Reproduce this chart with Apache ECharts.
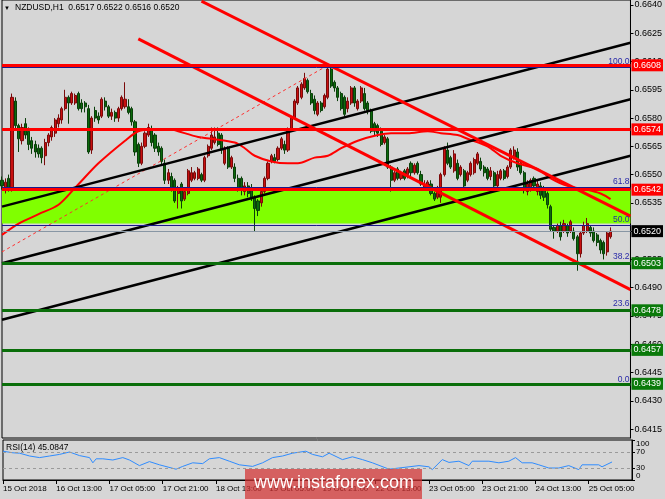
<!DOCTYPE html>
<html><head><meta charset="utf-8">
<script src="https://cdn.jsdelivr.net/npm/echarts@6/dist/echarts.min.js"></script>
<style>html,body{margin:0;padding:0;background:#d6d6d6}#c{width:665px;height:499px}</style>
</head><body><div id="c"></div>
<script>
// ---------- DATA ----------
const symbolName = 'NZDUSD,H1';
const lastQuote = ['0.6517', '0.6522', '0.6516', '0.6520'];
const rsiTitle = 'RSI(14) 45.0847';
const timeLabels = ['15 Oct 2018','16 Oct 13:00','17 Oct 05:00','17 Oct 21:00','18 Oct 13:00','19 Oct 05:00','19 Oct 21:00','22 Oct 13:00','23 Oct 05:00','23 Oct 21:00','24 Oct 13:00','25 Oct 05:00'];
const labelStep = 16;
const slotCount = 190;
const priceTicks = [0.6415,0.6430,0.6445,0.6460,0.6475,0.6490,0.6505,0.6520,0.6535,0.6550,0.6565,0.6580,0.6595,0.6610,0.6625,0.6640];
const rsiInnerTicks = [30, 70];
const rsiEdgeTicks = [0, 100];
const rsiLevels = [30, 70];

const opens = [0.6547,0.6542,0.6548,0.6543,0.6589,0.6576,0.6568,0.6577,0.6573,0.6568,0.6566,0.6564,0.6564,0.6560,0.6567,0.6570,0.6572,0.6577,0.6579,0.6585,
0.6591,0.6588,0.6588,0.6593,0.6588,0.6588,0.6585,0.6563,0.6584,0.6581,0.6581,0.6589,0.6586,0.6581,0.6583,0.6580,0.6585,0.6586,0.6586,0.6585,
0.6578,0.6566,0.6556,0.6565,0.6571,0.6574,0.6571,0.6565,0.6564,0.6556,0.6547,0.6549,0.6547,0.6540,0.6545,0.6537,0.6540,0.6547,0.6548,0.6548,
0.6550,0.6547,0.6560,0.6564,0.6567,0.6572,0.6571,0.6556,0.6564,0.6554,0.6554,0.6548,0.6548,0.6541,0.6544,0.6543,0.6538,0.6536,0.6535,0.6541,
0.6548,0.6557,0.6559,0.6558,0.6564,0.6566,0.6563,0.6574,0.6580,0.6588,0.6591,0.6596,0.6600,0.6593,0.6590,0.6582,0.6588,0.6586,0.6591,0.6606,
0.6599,0.6596,0.6593,0.6591,0.6585,0.6588,0.6596,0.6585,0.6589,0.6593,0.6588,0.6584,0.6577,0.6576,0.6573,0.6567,0.6569,0.6554,0.6547,0.6553,
0.6548,0.6552,0.6550,0.6556,0.6551,0.6556,0.6550,0.6543,0.6543,0.6545,0.6540,0.6538,0.6538,0.6550,0.6563,0.6559,0.6552,0.6556,0.6550,0.6552,
0.6547,0.6550,0.6551,0.6556,0.6557,0.6554,0.6553,0.6549,0.6551,0.6544,0.6548,0.6552,0.6549,0.6554,0.6559,0.6562,0.6556,0.6551,0.6541,0.6542,
0.6548,0.6541,0.6544,0.6543,0.6540,0.6533,0.6522,0.6520,0.6523,0.6520,0.6523,0.6520,0.6520,0.6517,0.6508,0.6519,0.6520,0.6522,0.6520,0.6518,
0.6515,0.6514,0.6509,0.6517];
const closes = [0.6544,0.6546,0.6543,0.6591,0.6576,0.6569,0.6575,0.6571,0.6566,0.6564,0.6562,0.6561,0.6559,0.6567,0.6571,0.6575,0.6579,0.6580,0.6585,0.6591,
0.6588,0.6593,0.6592,0.6585,0.6585,0.6586,0.6562,0.6580,0.6580,0.6579,0.6590,0.6586,0.6581,0.6583,0.6580,0.6585,0.6591,0.6590,0.6583,0.6578,
0.6562,0.6556,0.6565,0.6572,0.6575,0.6567,0.6564,0.6562,0.6557,0.6547,0.6551,0.6543,0.6536,0.6543,0.6536,0.6541,0.6552,0.6551,0.6551,0.6553,
0.6547,0.6559,0.6565,0.6571,0.6570,0.6566,0.6563,0.6564,0.6554,0.6559,0.6548,0.6543,0.6542,0.6544,0.6540,0.6538,0.6532,0.6531,0.6541,0.6548,
0.6556,0.6560,0.6557,0.6564,0.6569,0.6563,0.6574,0.6580,0.6589,0.6596,0.6598,0.6601,0.6594,0.6588,0.6584,0.6588,0.6584,0.6592,0.6606,0.6597,
0.6596,0.6591,0.6585,0.6582,0.6589,0.6596,0.6588,0.6589,0.6596,0.6585,0.6584,0.6573,0.6573,0.6572,0.6566,0.6570,0.6554,0.6547,0.6551,0.6548,
0.6551,0.6548,0.6553,0.6551,0.6555,0.6551,0.6545,0.6545,0.6546,0.6540,0.6537,0.6543,0.6550,0.6564,0.6556,0.6554,0.6561,0.6548,0.6554,0.6544,
0.6551,0.6556,0.6558,0.6561,0.6553,0.6551,0.6548,0.6552,0.6544,0.6550,0.6552,0.6548,0.6554,0.6563,0.6563,0.6554,0.6551,0.6542,0.6545,0.6547,
0.6544,0.6545,0.6539,0.6538,0.6534,0.6521,0.6520,0.6523,0.6517,0.6524,0.6519,0.6525,0.6516,0.6508,0.6519,0.6523,0.6524,0.6519,0.6515,0.6514,
0.6510,0.6508,0.6519,0.6520];
const lows = [0.6542,0.6540,0.6541,0.6541,0.6574,0.6562,0.6566,0.6569,0.6563,0.6561,0.6559,0.6559,0.6556,0.6555,0.6565,0.6568,0.6570,0.6575,0.6577,0.6584,
0.6577,0.6587,0.6587,0.6584,0.6583,0.6583,0.6561,0.6561,0.6578,0.6577,0.6580,0.6584,0.6580,0.6579,0.6578,0.6578,0.6584,0.6585,0.6582,0.6576,
0.6560,0.6554,0.6555,0.6564,0.6570,0.6565,0.6562,0.6560,0.6555,0.6545,0.6545,0.6541,0.6535,0.6532,0.6532,0.6536,0.6539,0.6546,0.6547,0.6547,
0.6546,0.6546,0.6559,0.6563,0.6566,0.6565,0.6561,0.6555,0.6553,0.6553,0.6546,0.6541,0.6539,0.6539,0.6538,0.6536,0.6520,0.6528,0.6533,0.6540,
0.6547,0.6556,0.6556,0.6557,0.6563,0.6561,0.6562,0.6573,0.6579,0.6587,0.6590,0.6595,0.6593,0.6587,0.6582,0.6581,0.6583,0.6585,0.6590,0.6596,
0.6594,0.6589,0.6584,0.6581,0.6583,0.6587,0.6586,0.6584,0.6588,0.6584,0.6582,0.6572,0.6571,0.6570,0.6565,0.6566,0.6553,0.6541,0.6546,0.6547,
0.6547,0.6547,0.6548,0.6549,0.6550,0.6550,0.6544,0.6542,0.6542,0.6539,0.6536,0.6537,0.6535,0.6549,0.6555,0.6553,0.6551,0.6547,0.6549,0.6542,
0.6546,0.6549,0.6550,0.6555,0.6552,0.6549,0.6547,0.6547,0.6543,0.6543,0.6547,0.6547,0.6548,0.6553,0.6558,0.6552,0.6550,0.6540,0.6539,0.6541,
0.6543,0.6539,0.6537,0.6536,0.6532,0.6520,0.6516,0.6519,0.6515,0.6519,0.6517,0.6519,0.6515,0.6499,0.6506,0.6518,0.6519,0.6517,0.6514,0.6512,
0.6508,0.6505,0.6507,0.6516];
const highs = [0.6549,0.6548,0.6550,0.6593,0.6591,0.6577,0.6577,0.6580,0.6575,0.6570,0.6568,0.6566,0.6565,0.6569,0.6572,0.6576,0.6580,0.6582,0.6586,0.6595,
0.6592,0.6594,0.6593,0.6594,0.6590,0.6589,0.6587,0.6581,0.6586,0.6583,0.6591,0.6591,0.6587,0.6585,0.6584,0.6586,0.6592,0.6599,0.6590,0.6586,
0.6579,0.6567,0.6567,0.6573,0.6577,0.6576,0.6572,0.6567,0.6565,0.6558,0.6553,0.6551,0.6548,0.6544,0.6546,0.6542,0.6553,0.6554,0.6552,0.6554,
0.6551,0.6560,0.6566,0.6575,0.6575,0.6575,0.6572,0.6565,0.6565,0.6560,0.6556,0.6550,0.6549,0.6546,0.6546,0.6545,0.6539,0.6537,0.6542,0.6549,
0.6557,0.6561,0.6561,0.6565,0.6570,0.6568,0.6575,0.6581,0.6590,0.6597,0.6599,0.6604,0.6601,0.6595,0.6592,0.6589,0.6589,0.6593,0.6608,0.6608,
0.6600,0.6597,0.6594,0.6592,0.6591,0.6597,0.6597,0.6590,0.6597,0.6596,0.6589,0.6585,0.6578,0.6577,0.6575,0.6571,0.6570,0.6555,0.6552,0.6554,
0.6552,0.6553,0.6554,0.6557,0.6556,0.6557,0.6552,0.6547,0.6547,0.6547,0.6541,0.6544,0.6551,0.6565,0.6567,0.6560,0.6563,0.6558,0.6555,0.6553,
0.6552,0.6557,0.6559,0.6562,0.6559,0.6555,0.6554,0.6554,0.6552,0.6552,0.6553,0.6553,0.6555,0.6564,0.6565,0.6564,0.6557,0.6552,0.6547,0.6548,
0.6549,0.6547,0.6546,0.6544,0.6541,0.6534,0.6523,0.6524,0.6525,0.6526,0.6524,0.6526,0.6522,0.6518,0.6520,0.6525,0.6527,0.6523,0.6522,0.6519,
0.6516,0.6515,0.6520,0.6522];

// moving average: [bar index, price]
const movingAvg = [[0,0.6518],[5,0.6524],[11,0.6529],[17,0.6534],[22,0.6543],[29,0.6556],[37,0.6568],[41,0.6573],[45,0.6574],[51,0.6574],[53,0.6573],[59,0.6570],[63,0.6569],[70,0.6567],[73,0.6564],[76,0.6560],[81,0.6557],[86,0.6556],[89,0.6556],[94,0.6559],[98,0.6560],[102,0.6564],[107,0.6568],[113,0.6571],[117,0.6572],[122,0.6572],[128,0.6573],[132,0.6572],[137,0.6571],[140,0.6569],[146,0.6565],[150,0.6560],[155,0.6556],[161,0.6553],[165,0.6548],[170,0.6544],[176,0.6542],[180,0.6540],[183,0.6537]];

// RSI(14): [bar index, value]
const rsiValues = [[0,72],[3,68],[5,67],[8,60],[11,56],[14,60],[17,64],[20,70],[23,61],[26,56],[27,43],[28,53],[30,53],[33,50],[36,56],[38,50],[41,36],[44,46],[47,38],[52,27],[54,34],[57,43],[60,41],[62,53],[65,56],[68,47],[71,38],[75,34],[78,43],[81,56],[84,60],[87,67],[91,72],[93,64],[96,58],[98,67],[102,51],[105,58],[108,51],[111,43],[116,27],[122,33],[125,36],[128,33],[129,26],[132,51],[134,44],[137,47],[140,36],[141,47],[146,47],[149,43],[152,47],[154,56],[156,43],[159,43],[161,38],[164,30],[167,30],[170,36],[173,26],[174,38],[179,38],[180,33],[183,45.08]];

// trend lines: endpoints [bar index, price]
const channelTop = [[0, 0.6533], [189, 0.6620]];
const channelMid = [[0, 0.6503], [189, 0.6590]];
const channelLow = [[0, 0.6473], [189, 0.6560]];
const downTrendA = [[60, 0.6642], [189, 0.6528]];
const downTrendB = [[41, 0.6622], [189, 0.6489]];
const fibTrend = [[0, 0.6509], [98, 0.6608]];

// horizontal levels
const redLevels = [0.6608, 0.6574, 0.6542];
const greenLevels = [0.6503, 0.6478, 0.6457, 0.6439];
const bidLevel = 0.6520;
const fibNames = ['100.0', '61.8', '50.0', '38.2', '23.6', '0.0'];
const fibPrices = [0.66072, 0.65431, 0.65233, 0.65034, 0.64788, 0.64385];
const zoneBand = [0.6524, 0.6542];

// ---------- CHART ----------
const FONT = 'Liberation Sans, Arial, sans-serif';
const cats = Array.from({length: slotCount}, (_, i) => String(i));
const candles = opens.map((o, i) => [o, closes[i], lows[i], highs[i]]);
const showEvery = (idx) => idx % labelStep === 0;

function levelLine(v, color, width, bg) {
  return {
    yAxis: v,
    lineStyle: {color: color, width: width, type: 'solid'},
    label: {show: true, position: 'end', distance: 1, formatter: v.toFixed(4),
      color: '#fff', backgroundColor: bg, padding: [2, 2, 1, 2], fontSize: 9, fontFamily: FONT}
  };
}

const chart = echarts.init(document.getElementById('c'));
chart.setOption({
  animation: false,
  backgroundColor: '#d6d6d6',
  grid: [
    {left: 2, right: 33, top: -1, height: 439, show: true, borderColor: '#000', borderWidth: 1, backgroundColor: 'transparent'},
    {left: 2, right: 33, top: 440, height: 40, show: true, borderColor: '#000', borderWidth: 1, backgroundColor: 'transparent'}
  ],
  xAxis: [
    {gridIndex: 0, type: 'category', data: cats, boundaryGap: false, show: false},
    {gridIndex: 1, type: 'category', data: cats, boundaryGap: false,
      axisLine: {lineStyle: {color: '#000'}},
      axisTick: {show: true, interval: showEvery, length: 4, lineStyle: {color: '#000'}},
      axisLabel: {interval: showEvery, align: 'left', margin: 5, fontSize: 8, color: '#000', fontFamily: FONT,
        formatter: (v, i) => timeLabels[Math.round(i / labelStep)] || ''},
      splitLine: {show: false}}
  ],
  yAxis: [
    {gridIndex: 0, type: 'value', position: 'right', min: 0.641024, max: 0.664265, scale: true,
      axisLine: {show: true, lineStyle: {color: '#000'}},
      axisTick: {show: true, length: 3, customValues: priceTicks, lineStyle: {color: '#000'}},
      axisLabel: {customValues: priceTicks, formatter: v => v.toFixed(4), fontSize: 9, color: '#000', margin: 4, fontFamily: FONT},
      splitLine: {show: false}},
    {gridIndex: 1, type: 'value', position: 'right', min: 0, max: 100,
      axisLine: {show: true, lineStyle: {color: '#000'}},
      axisTick: {show: true, length: 3, customValues: rsiInnerTicks, lineStyle: {color: '#000'}},
      axisLabel: {customValues: rsiInnerTicks, fontSize: 8, color: '#000', margin: 4, fontFamily: FONT},
      splitLine: {show: false}},
    {gridIndex: 1, type: 'value', position: 'right', min: 0, max: 100,
      axisLine: {show: false},
      axisTick: {show: true, length: 3, customValues: rsiEdgeTicks, lineStyle: {color: '#000'}},
      axisLabel: {customValues: rsiEdgeTicks, fontSize: 8, color: '#000', margin: 4, fontFamily: FONT,
        showMinLabel: true, showMaxLabel: true,
        verticalAlignMinLabel: 'bottom', verticalAlignMaxLabel: 'top'},
      splitLine: {show: false}}
  ],
  series: [
    {name: 'zone', type: 'line', data: [], z: 1, silent: true,
      markArea: {silent: true, precision: 6, itemStyle: {color: '#80ff00', opacity: 1},
        data: [[{yAxis: zoneBand[0]}, {yAxis: zoneBand[1]}]]}},
    {name: 'fib', type: 'line', data: [], z: 2, silent: true,
      markLine: {silent: true, symbol: 'none', precision: 6,
        data: fibPrices.map((p, i) => ({yAxis: p, lineStyle: {color: '#1a1a8c', width: 1, type: 'solid'},
          label: {show: true, position: 'insideEndTop', distance: 1, formatter: fibNames[i], color: '#2a2aa8', fontSize: 8.5, fontFamily: FONT}}))}},
    {name: 'price', type: 'candlestick', data: candles, z: 3, barWidth: 2.6,
      itemStyle: {color: '#c81010', color0: '#0c6a0c', borderColor: '#7a0a0a', borderColor0: '#0a3f0a', borderWidth: 1}},
    {name: 'levels', type: 'line', data: [], z: 5, silent: true,
      markLine: {silent: true, symbol: 'none', precision: 6,
        data: [
          {yAxis: bidLevel, lineStyle: {color: '#8896a4', width: 1, type: 'solid'},
            label: {show: true, position: 'end', distance: 1, formatter: bidLevel.toFixed(4), color: '#fff', backgroundColor: '#000', padding: [2, 2, 1, 2], fontSize: 9, fontFamily: FONT}}
        ].concat(redLevels.map(v => levelLine(v, '#ff0000', 3, '#ff0000')))
         .concat(greenLevels.map(v => levelLine(v, '#0a6e0a', 3, '#0a7a0a')))}},
    {name: 'MA', type: 'line', data: movingAvg, z: 4, showSymbol: false, smooth: 0.3, silent: true,
      lineStyle: {color: '#ff0000', width: 2}},
    {name: 'fibTrend', type: 'line', data: fibTrend, z: 4, showSymbol: false, silent: true,
      lineStyle: {color: '#ff3030', width: 1, type: [3, 3]}},
    {name: 'chTop', type: 'line', data: channelTop, z: 4, showSymbol: false, silent: true, lineStyle: {color: '#000', width: 2.5}},
    {name: 'chMid', type: 'line', data: channelMid, z: 4, showSymbol: false, silent: true, lineStyle: {color: '#000', width: 2.5}},
    {name: 'chLow', type: 'line', data: channelLow, z: 4, showSymbol: false, silent: true, lineStyle: {color: '#000', width: 2.5}},
    {name: 'downA', type: 'line', data: downTrendA, z: 4, showSymbol: false, silent: true, lineStyle: {color: '#ff0000', width: 3}},
    {name: 'downB', type: 'line', data: downTrendB, z: 4, showSymbol: false, silent: true, lineStyle: {color: '#ff0000', width: 3}},
    {name: 'RSI', type: 'line', xAxisIndex: 1, yAxisIndex: 1, data: rsiValues, z: 4, showSymbol: false, silent: true,
      lineStyle: {color: '#2f8cff', width: 1},
      markLine: {silent: true, symbol: 'none', label: {show: false},
        data: rsiLevels.map(v => ({yAxis: v})), lineStyle: {color: '#9a9a9a', width: 1, type: [3, 3]}}}
  ],
  graphic: [
    {type: 'text', left: 4, top: 5, z: 10, style: {text: '\u25BC', fontSize: 6, fill: '#000', fontFamily: FONT}},
    {type: 'text', left: 15, top: 3, z: 10, style: {text: symbolName + '  ' + lastQuote.join(' '), fontSize: 8.5, fill: '#000', fontFamily: FONT}},
    {type: 'text', left: 6, top: 443, z: 10, style: {text: rsiTitle, fontSize: 8.5, fill: '#000', fontFamily: FONT}},
    {type: 'rect', left: 245, top: 469, z: 20, shape: {width: 177, height: 32}, style: {fill: 'rgba(212,50,50,0.72)'}},
    {type: 'text', left: 254, top: 474, z: 21, style: {text: 'www.instaforex.com', fontSize: 18, fill: '#fff', fontFamily: FONT}}
  ]
});
</script>
</body></html>
